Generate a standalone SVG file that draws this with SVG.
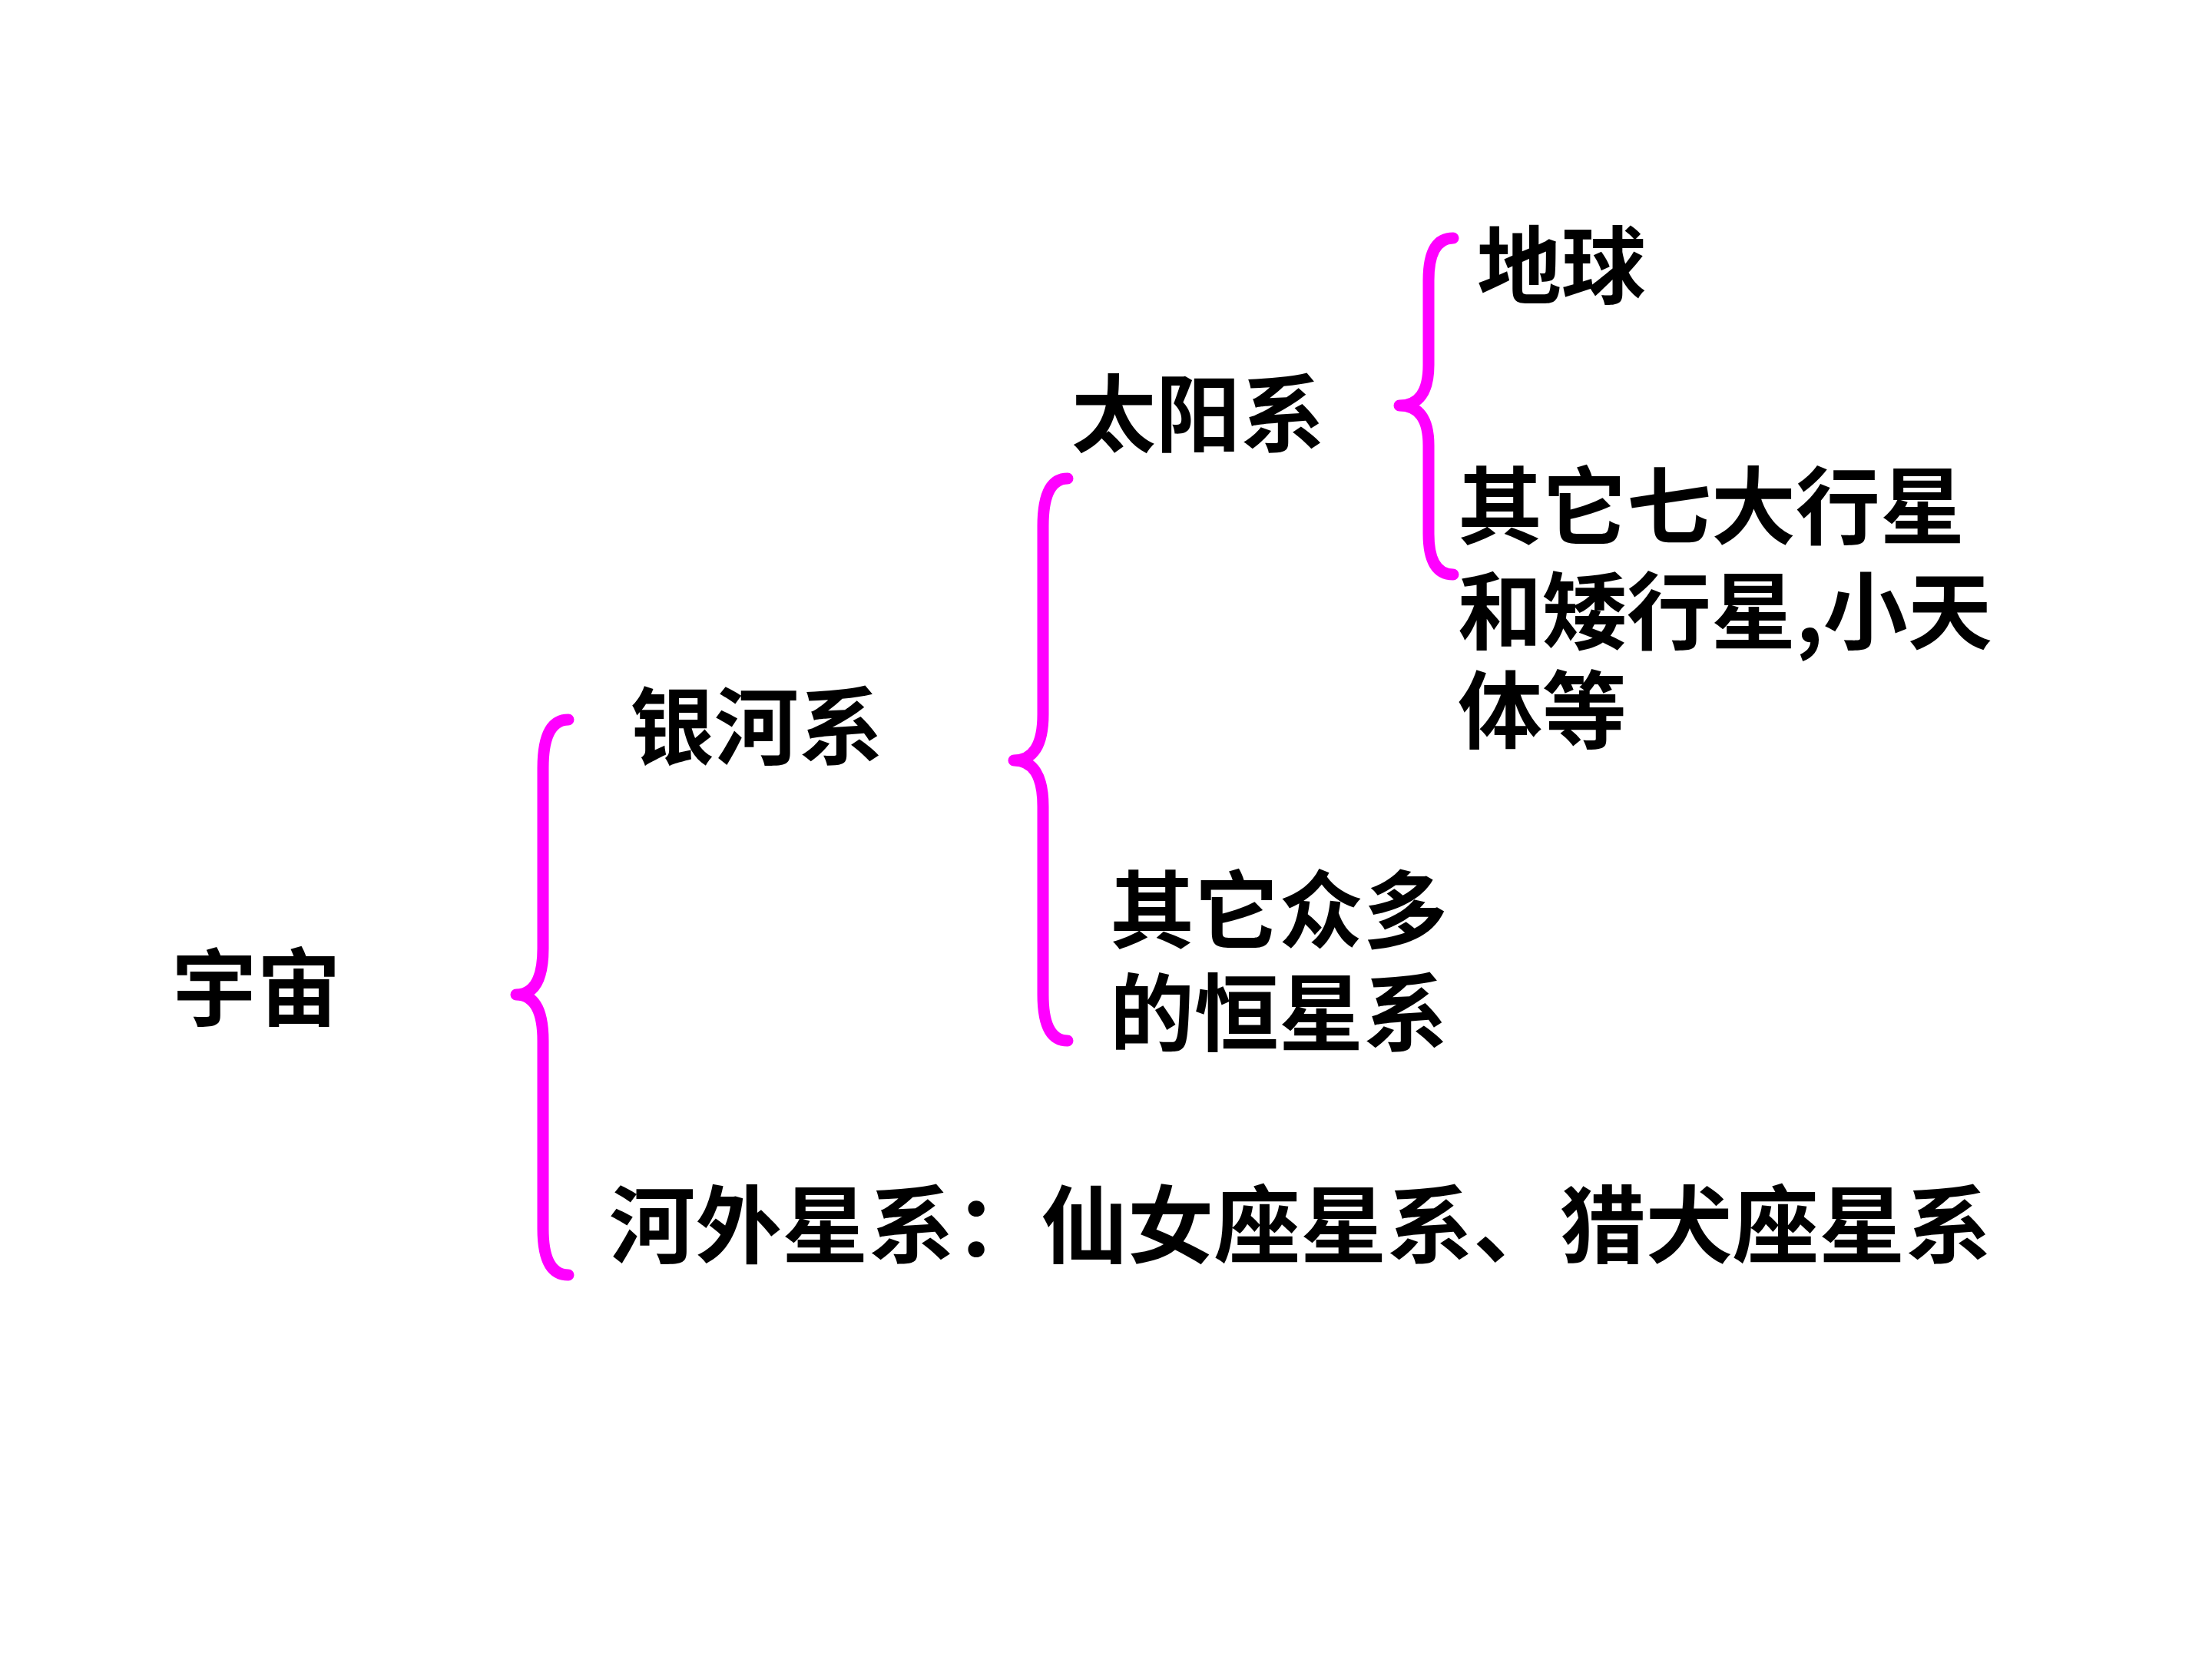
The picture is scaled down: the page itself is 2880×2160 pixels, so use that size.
<svg xmlns="http://www.w3.org/2000/svg" width="2880" height="2160" viewBox="0 0 2880 2160">
<style>
.t{font-family:"Noto Sans CJK SC","Noto Sans CJK TC",sans-serif;font-size:110px;font-weight:bold;fill:#000}
.b{fill:none;stroke:#FF00FF;stroke-width:15;stroke-linecap:round;stroke-linejoin:round}
</style>
<rect width="2880" height="2160" fill="#fff"/>
<g id="connectors">
<path class="b" d="M740,937 Q707,937 707,1000 L707,1235 Q707,1295 672,1295 Q707,1295 707,1355 L707,1600 Q707,1660 740,1660"/>
<path class="b" d="M1390,623 Q1358,623 1358,685 L1358,930 Q1358,990 1320,990 Q1358,990 1358,1050 L1358,1295 Q1358,1355 1390,1355"/>
<path class="b" d="M1892,310 Q1860,310 1860,365 L1860,475 Q1860,528 1822,528 Q1860,528 1860,580 L1860,695 Q1860,748 1892,748"/>
</g>
<g id="n-universe"><text class="t" x="224" y="1327">宇宙</text></g>
<g id="n-milkyway"><text class="t" x="820" y="987">银河系</text></g>
<g id="n-solar"><text class="t" x="1395" y="580">太阳系</text></g>
<g id="n-earth"><text class="t" x="1923" y="387">地球</text></g>
<g id="n-planets"><text class="t" x="1898" y="700">其它七大行星</text><text class="t" x="1898" y="837">和矮行星,小天</text><text class="t" x="1898" y="966">体等</text></g>
<g id="n-otherstars"><text class="t" x="1445" y="1226">其它众多</text><text class="t" x="1445" y="1360">的恒星系</text></g>
<g id="n-external"><text class="t" x="793" y="1636" textLength="1800" lengthAdjust="spacingAndGlyphs">河外星系：仙女座星系、猎犬座星系</text></g>
</svg>
